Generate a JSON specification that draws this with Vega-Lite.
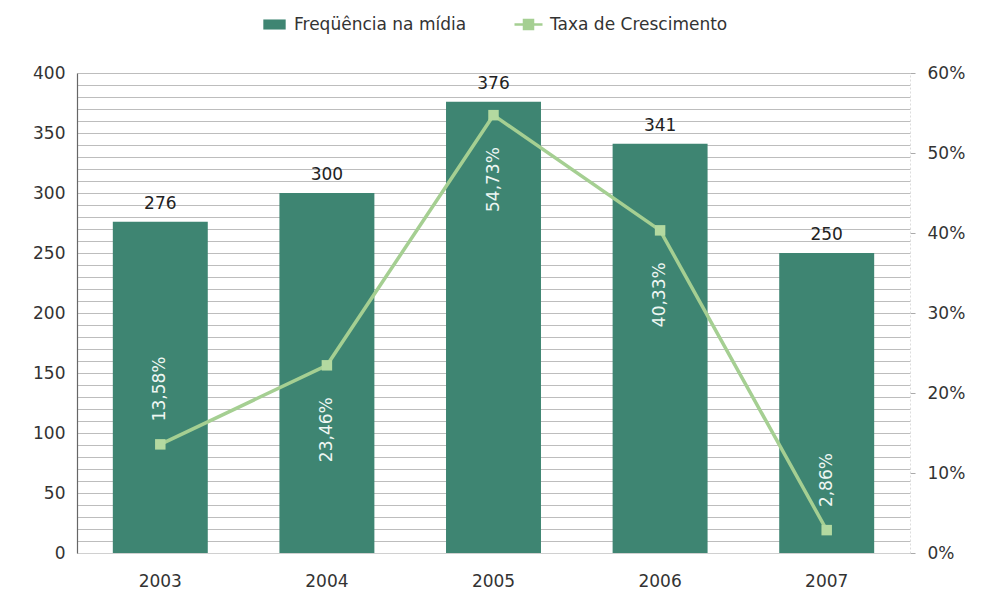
{
  "$schema": "https://vega.github.io/schema/vega-lite/v6.json",
  "width": 833,
  "height": 480,
  "autosize": {"type": "none"},
  "padding": {"left": 77, "top": 73, "right": 74, "bottom": 45},
  "background": "white",
  "config": {
    "view": {"stroke": null},
    "font": "DejaVu Sans",
    "axis": {"labelFont": "DejaVu Sans", "labelFontSize": 17, "labelColor": "#333333"},
    "legend": {"labelFont": "DejaVu Sans", "labelFontSize": 17, "labelColor": "#333333", "labelLimit": 400}
  },
  "data": {
    "values": [
      {"year": "2003", "freq": 276, "growth": 0.1358, "label": "13,58%"},
      {"year": "2004", "freq": 300, "growth": 0.2346, "label": "23,46%"},
      {"year": "2005", "freq": 376, "growth": 0.5473, "label": "54,73%"},
      {"year": "2006", "freq": 341, "growth": 0.4033, "label": "40,33%"},
      {"year": "2007", "freq": 250, "growth": 0.0286, "label": "2,86%"}
    ]
  },
  "encoding": {
    "x": {
      "field": "year", "type": "nominal",
      "scale": {"paddingInner": 0.43, "paddingOuter": 0.215},
      "axis": {"title": null, "labelAngle": 0, "domain": true, "domainColor": "#d0d0d0", "ticks": false, "labelPadding": 20, "labelFontSize": 17}
    }
  },
  "layer": [
    {
      "encoding": {
        "y": {
          "field": "freq", "type": "quantitative",
          "scale": {"domain": [0, 400], "nice": false},
          "axis": {
            "title": null,
            "values": [0,10,20,30,40,50,60,70,80,90,100,110,120,130,140,150,160,170,180,190,200,210,220,230,240,250,260,270,280,290,300,310,320,330,340,350,360,370,380,390,400],
            "labelExpr": "datum.value % 50 === 0 ? datum.label : ''",
            "grid": true, "gridColor": "#bdbdbd", "gridWidth": 1.2,
            "domain": true, "domainColor": "#666666", "domainWidth": 1.2,
            "ticks": false, "labelPadding": 12
          }
        }
      },
      "layer": [
        {
          "mark": {"type": "bar", "strokeWidth": 0},
          "encoding": {
            "fill": {
              "datum": "Freqüência na mídia",
              "scale": {"range": ["#3e8572"]},
              "legend": {"title": null, "orient": "none", "legendX": 186, "legendY": -60, "symbolType": "M-1,-0.45H1V0.45H-1Z", "symbolSize": 500, "symbolStrokeWidth": 0, "labelFontSize": 17, "labelOffset": 8, "labelLimit": 400}
            }
          }
        },
        {
          "mark": {"type": "text", "dy": -18, "fontSize": 17, "color": "#222222", "font": "DejaVu Sans"},
          "encoding": {"text": {"field": "freq", "type": "quantitative"}}
        }
      ]
    },
    {
      "encoding": {
        "y": {
          "field": "growth", "type": "quantitative",
          "scale": {"domain": [0, 0.6], "nice": false},
          "axis": {
            "title": null, "orient": "right", "format": ".0%",
            "values": [0, 0.1, 0.2, 0.3, 0.4, 0.5, 0.6],
            "grid": false, "domain": true, "domainColor": "#dddddd", "domainDash": [2, 2],
            "ticks": true, "tickColor": "#aaaaaa", "tickSize": 5, "labelPadding": 12
          }
        }
      },
      "layer": [
        {
          "mark": {"type": "line", "strokeWidth": 3.5},
          "encoding": {
            "stroke": {
              "datum": "Taxa de Crescimento",
              "scale": {"range": ["#a5cf92"]},
              "legend": {"title": null, "orient": "none", "legendX": 440, "legendY": -60, "symbolType": "M-1.4,0H1.4M-0.45,-0.45H0.45V0.45H-0.45Z", "symbolSize": 400, "symbolStrokeWidth": 2.5, "symbolFillColor": "#a5cf92", "labelFontSize": 17, "labelOffset": 10, "labelLimit": 400}
            }
          }
        },
        {
          "mark": {"type": "point", "shape": "square", "filled": true, "size": 110, "color": "#b3d9a0", "opacity": 1}
        },
        {
          "transform": [{"filter": "datum.year === '2003' || datum.year === '2007'"}],
          "mark": {"type": "text", "angle": 270, "align": "left", "baseline": "middle", "dx": 23, "fontSize": 17, "color": "#eef7f2", "font": "DejaVu Sans"},
          "encoding": {"text": {"field": "label"}}
        },
        {
          "transform": [{"filter": "datum.year !== '2003' && datum.year !== '2007'"}],
          "mark": {"type": "text", "angle": 270, "align": "right", "baseline": "middle", "dx": -32, "fontSize": 17, "color": "#eef7f2", "font": "DejaVu Sans"},
          "encoding": {"text": {"field": "label"}}
        }
      ]
    }
  ],
  "resolve": {"scale": {"y": "independent"}}
}
